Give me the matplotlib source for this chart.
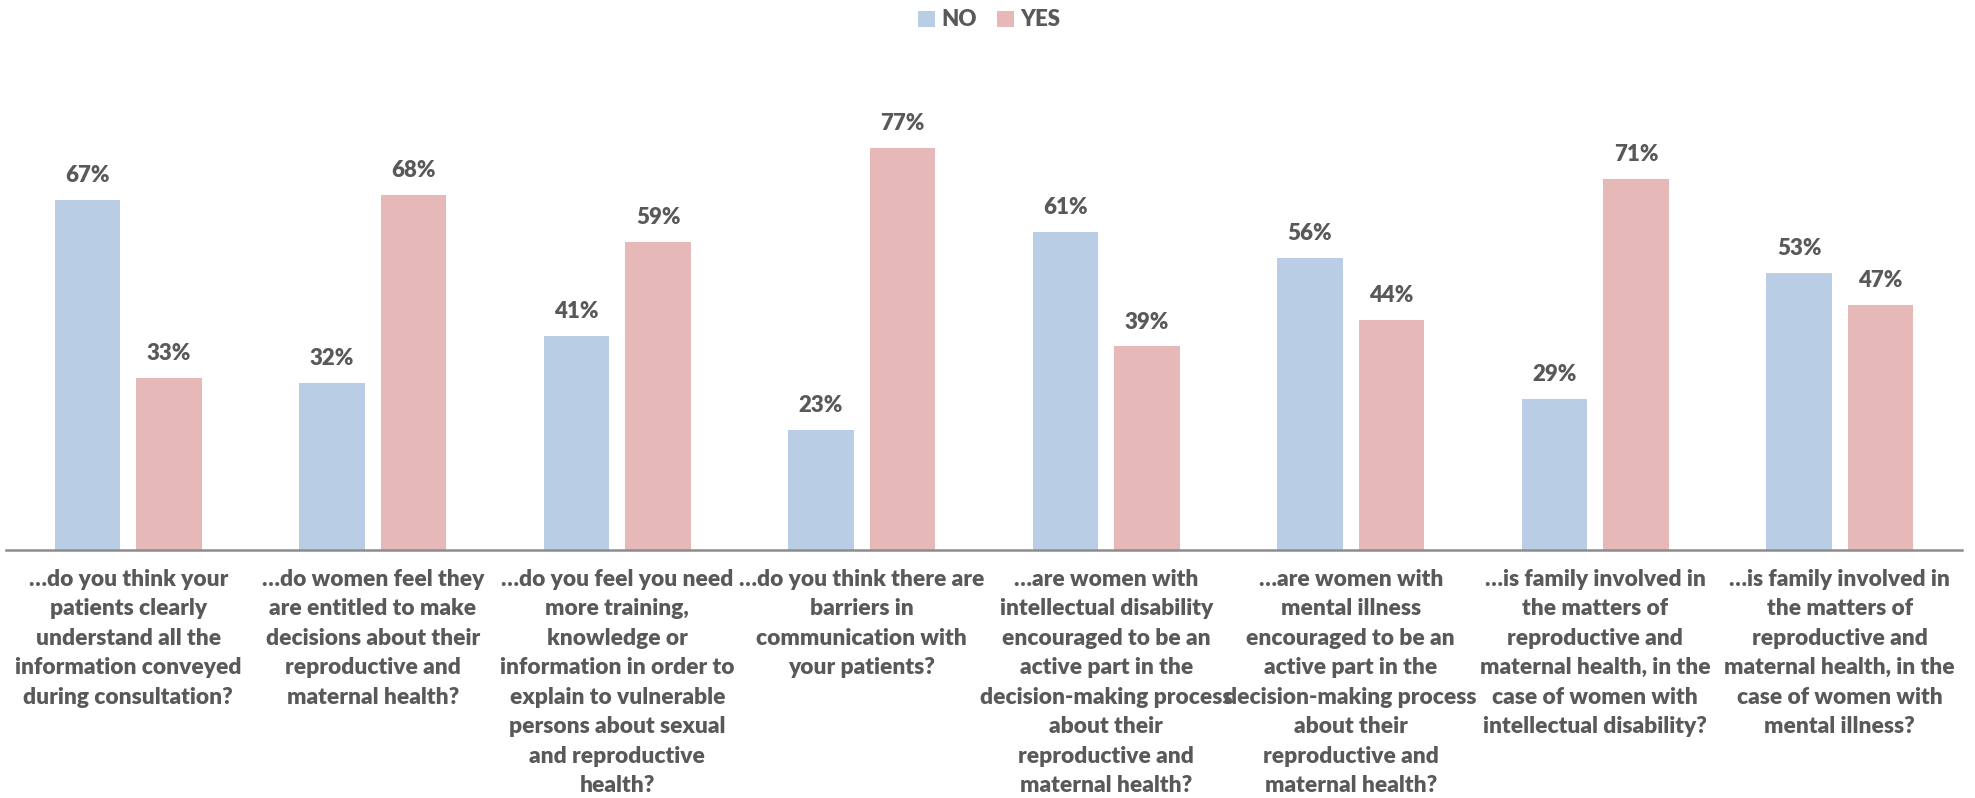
import matplotlib
matplotlib.use("Agg")
import matplotlib.pyplot as plt
import numpy as np

plt.rcParams['font.family'] = ['Lato', 'DejaVu Sans']

categories = [
    "…do you think your\npatients clearly\nunderstand all the\ninformation conveyed\nduring consultation?",
    "…do women feel they\nare entitled to make\ndecisions about their\nreproductive and\nmaternal health?",
    "…do you feel you need\nmore training,\nknowledge or\ninformation in order to\nexplain to vulnerable\npersons about sexual\nand reproductive\nhealth?",
    "…do you think there are\nbarriers in\ncommunication with\nyour patients?",
    "…are women with\nintellectual disability\nencouraged to be an\nactive part in the\ndecision-making process\nabout their\nreproductive and\nmaternal health?",
    "…are women with\nmental illness\nencouraged to be an\nactive part in the\ndecision-making process\nabout their\nreproductive and\nmaternal health?",
    "…is family involved in\nthe matters of\nreproductive and\nmaternal health, in the\ncase of women with\nintellectual disability?",
    "…is family involved in\nthe matters of\nreproductive and\nmaternal health, in the\ncase of women with\nmental illness?",
]
no_values = [67, 32, 41, 23, 61, 56, 29, 53]
yes_values = [33, 68, 59, 77, 39, 44, 71, 47]
series_names = ["NO", "YES"]

NO_COLOR = "#B9CDE5"
YES_COLOR = "#E6B9B8"
TEXT_COLOR = "#595959"

W, H = 1975, 798
fig = plt.figure(figsize=(W / 100, H / 100), dpi=100)
ax = fig.add_axes([6 / W, 1 - 550 / H, 1956 / W, 522 / H])

x = np.arange(len(categories))
bw = 0.266
off = 0.1667
b1 = ax.bar(x - off, no_values, bw, color=NO_COLOR, label=series_names[0])
b2 = ax.bar(x + off, yes_values, bw, color=YES_COLOR, label=series_names[1])

for bars, vals in ((b1, no_values), (b2, yes_values)):
    for rect, v in zip(bars, vals):
        ax.annotate(f"{v}%", (rect.get_x() + rect.get_width() / 2, v),
                    xytext=(0, 10), textcoords="offset points",
                    ha="center", va="bottom", fontsize=16,
                    fontweight="heavy", color=TEXT_COLOR)

ax.set_xlim(-0.5, len(categories) - 0.5)
ax.set_ylim(0, 100)
ax.set_yticks([])
ax.set_xticks(x)
ax.set_xticklabels(categories, fontsize=16.4, fontweight="heavy",
                   color=TEXT_COLOR, linespacing=1.50, va="top")
ax.tick_params(axis="x", length=0, pad=13.5)
for s in ("top", "right", "left"):
    ax.spines[s].set_visible(False)
ax.spines["bottom"].set_color("#8C8C8C")
ax.spines["bottom"].set_linewidth(1.8)

leg = fig.legend(loc="center", bbox_to_anchor=(0.501, 1 - 20 / H), ncol=2,
                 frameon=False, handlelength=0.75, handleheight=0.75,
                 handletextpad=0.3, columnspacing=0.9,
                 prop={"size": 16, "weight": "heavy"})
for t in leg.get_texts():
    t.set_color(TEXT_COLOR)

fig.savefig("out.png", dpi=100)
